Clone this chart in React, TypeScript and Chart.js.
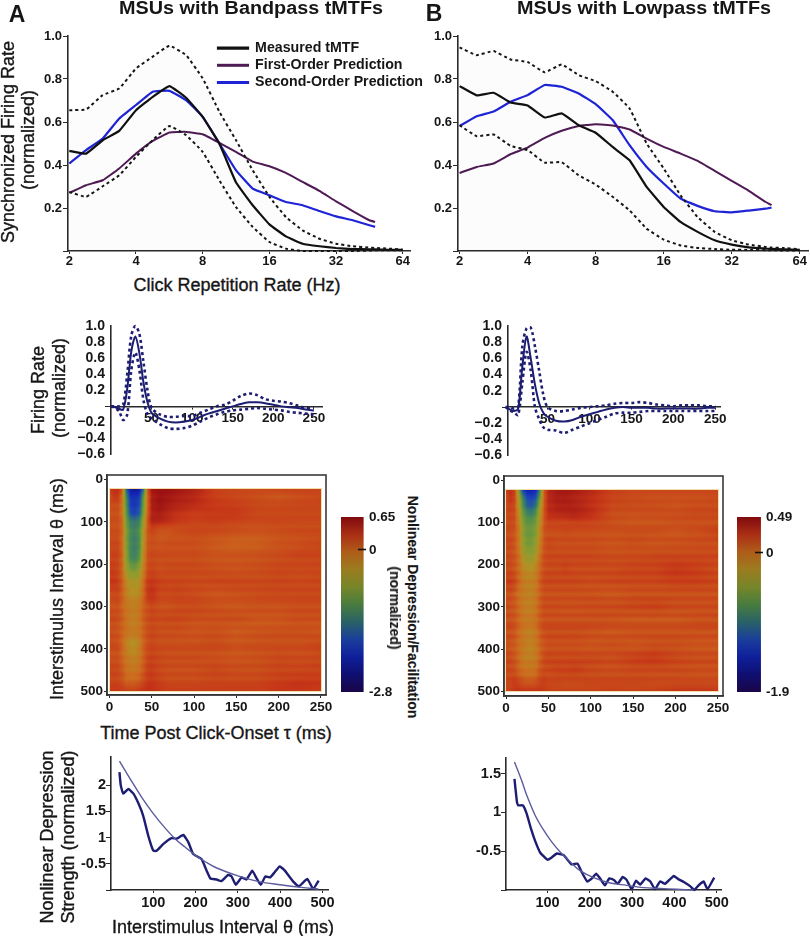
import React, { useEffect, useRef } from "react";
import { Chart, registerables } from "chart.js";

Chart.register(...registerables);

const FONT = '"Liberation Sans", Arial, sans-serif';
const INK = "#161616";
const NAVY = "#1d1d72";
const THIN = "#5b5b9e";
const PURPLE = "#4f1b55";
const BLUE = "#1f24d6";

// ---- Top row: temporal modulation transfer functions
const rates = [2, 2.38, 2.83, 3.36, 4, 4.76, 5.66, 6.73, 8, 9.51, 11.3, 13.45, 16, 19, 22.6, 26.9, 32, 38.05, 45.25, 48, 53.8, 64];
const rateTicks = [2, 4, 8, 16, 32, 64];
const syncTicks = [0, 0.2, 0.4, 0.6, 0.8, 1];
const syncTickLabels = ["", "0.2", "0.4", "0.6", "0.8", "1.0"];
const legendLabels = ["Measured tMTF", "First-Order Prediction", "Second-Order Prediction"];

const measuredA = [0.466, 0.453, 0.515, 0.559, 0.655, 0.717, 0.767, 0.713, 0.624, 0.5, 0.32, 0.213, 0.124, 0.068, 0.034, 0.022, 0.014, 0.009, 0.008, 0.008, 0.006, 0.005];
const firstA = [0.27, 0.306, 0.329, 0.384, 0.453, 0.512, 0.551, 0.554, 0.543, 0.503, 0.461, 0.416, 0.394, 0.363, 0.321, 0.28, 0.231, 0.186, 0.143, 0.135, null, null];
const secondA = [0.407, 0.469, 0.523, 0.616, 0.679, 0.741, 0.745, 0.702, 0.624, 0.5, 0.376, 0.29, 0.259, 0.228, 0.213, 0.186, 0.161, 0.143, 0.12, 0.112, null, null];
const upperA = [0.655, 0.658, 0.725, 0.756, 0.849, 0.904, 0.955, 0.911, 0.803, 0.648, 0.516, 0.376, 0.252, 0.158, 0.096, 0.057, 0.034, 0.022, 0.016, 0.014, 0.012, 0.006];
const lowerA = [0.275, 0.252, 0.301, 0.352, 0.438, 0.516, 0.581, 0.539, 0.461, 0.329, 0.205, 0.112, 0.042, 0.011, 0, 0, 0, 0, 0.002, 0.003, 0.004, 0.004];

const measuredB = [0.767, 0.724, 0.736, 0.691, 0.677, 0.621, 0.64, 0.585, 0.55, 0.484, 0.422, 0.298, 0.205, 0.135, 0.089, 0.05, 0.03, 0.017, 0.011, 0.01, 0.008, 0.005];
const firstB = [0.363, 0.391, 0.407, 0.45, 0.481, 0.526, 0.559, 0.581, 0.589, 0.584, 0.565, 0.523, 0.484, 0.453, 0.419, 0.373, 0.326, 0.28, 0.228, 0.213, null, null];
const secondB = [0.581, 0.627, 0.649, 0.694, 0.725, 0.772, 0.764, 0.733, 0.683, 0.609, 0.492, 0.391, 0.314, 0.244, 0.21, 0.185, 0.18, 0.188, 0.197, 0.202, null, null];
const upperB = [0.947, 0.911, 0.93, 0.891, 0.879, 0.831, 0.868, 0.818, 0.79, 0.741, 0.663, 0.5, 0.384, 0.259, 0.158, 0.089, 0.05, 0.03, 0.019, 0.016, 0.014, 0.008];
const lowerB = [0.585, 0.534, 0.542, 0.489, 0.469, 0.411, 0.413, 0.352, 0.309, 0.252, 0.189, 0.104, 0.053, 0.026, 0.014, 0.009, 0.006, 0.005, 0.004, 0.004, 0.002, 0.002];

// ---- Second row: first-order kernels
const lags = [0, 5, 10, 15, 20, 25, 30, 35, 40, 45, 50, 60, 70, 80, 90, 100, 110, 120, 130, 140, 150, 160, 170, 180, 190, 200, 210, 220, 230, 240, 250];
const lagTicks = [50, 100, 150, 200, 250];
const kernelTicks = [-0.6, -0.4, -0.2, 0, 0.2, 0.4, 0.6, 0.8, 1];
const kernelTickLabels = ["\u22120.6", "\u22120.4", "\u22120.2", "", "0.2", "0.4", "0.6", "0.8", "1.0"];

const kernelA = [0, -0.01, -0.03, -0.04, 0.22, 0.68, 0.87, 0.66, 0.3, 0.05, -0.08, -0.15, -0.19, -0.2, -0.19, -0.17, -0.13, -0.09, -0.06, -0.03, 0, 0.03, 0.05, 0.05, 0.04, 0.02, 0, -0.01, -0.02, -0.04, -0.05];
const kernelUpperA = [0, 0, 0, 0.02, 0.4, 0.88, 1, 0.9, 0.55, 0.2, -0.02, -0.1, -0.13, -0.13, -0.12, -0.12, -0.08, -0.04, 0, 0.02, 0.07, 0.13, 0.16, 0.14, 0.09, 0.07, 0.06, 0.04, 0.01, -0.02, -0.02];
const kernelLowerA = [0, -0.02, -0.06, -0.17, -0.1, 0.45, 0.67, 0.45, 0.08, -0.1, -0.15, -0.22, -0.27, -0.28, -0.27, -0.24, -0.19, -0.14, -0.1, -0.07, -0.05, -0.04, -0.03, -0.02, -0.03, -0.04, -0.05, -0.07, -0.08, -0.09, -0.1];

const kernelB = [0, -0.03, -0.05, -0.02, 0.5, 0.87, 0.6, 0.28, 0.05, -0.07, -0.12, -0.17, -0.18, -0.16, -0.12, -0.09, -0.06, -0.03, -0.01, 0, -0.01, -0.01, -0.01, -0.02, -0.02, -0.02, -0.02, -0.02, -0.02, -0.01, -0.01];
const kernelUpperB = [0, 0, -0.02, 0, 0.75, 0.97, 0.98, 0.75, 0.45, 0.15, 0, -0.05, -0.05, -0.03, -0.01, 0, 0.01, 0.02, 0.04, 0.05, 0.05, 0.06, 0.05, 0.03, 0.02, 0.01, 0.02, 0.02, 0.02, 0.01, 0.01];
const kernelLowerB = [0, -0.04, -0.07, -0.1, 0.3, 0.68, 0.45, 0, -0.15, -0.25, -0.28, -0.29, -0.32, -0.28, -0.24, -0.2, -0.16, -0.12, -0.08, -0.07, -0.07, -0.06, -0.05, -0.05, -0.05, -0.05, -0.05, -0.05, -0.05, -0.05, -0.05];

// ---- Third row: second-order maps
const heatLags = [0, 5, 10, 15, 20, 25, 30, 35, 40, 45, 50, 60, 70, 80, 100, 125, 150, 175, 200, 225, 250];
const heatThetas = [22, 40, 60, 80, 100, 120, 150, 180, 210, 240, 270, 300, 330, 360, 390, 420, 450, 480, 500];
const heatLagTicks = [0, 50, 100, 150, 200, 250];
const heatThetaTicks = [0, 100, 200, 300, 400, 500];

const heatA = [
  [0.2, 0.35, 0.35, 0.1, -1.6, -2.3, -2.4, -2.3, -1.5, 0.1, 0.55, 0.6, 0.6, 0.55, 0.45, 0.22, 0.18, 0.18, 0.2, 0.22, 0.2],
  [0.15, 0.3, 0.3, -0.1, -1.2, -2.0, -2.0, -1.9, -1.0, 0, 0.5, 0.6, 0.55, 0.5, 0.42, 0.25, 0.2, 0.15, 0.1, 0.15, 0.2],
  [0.15, 0.15, 0.15, -0.1, -1.1, -1.9, -1.95, -1.8, -0.9, 0, 0.5, 0.58, 0.5, 0.45, 0.38, 0.28, 0.25, 0.18, 0.18, 0.2, 0.2],
  [0.15, 0.15, 0.15, -0.1, -1.0, -1.7, -1.8, -1.6, -0.8, 0.05, 0.48, 0.52, 0.42, 0.35, 0.28, 0.3, 0.3, 0.2, 0.2, 0.2, 0.2],
  [0.15, 0.15, 0.15, 0, -0.9, -1.3, -1.35, -1.25, -0.6, 0.1, 0.45, 0.42, 0.35, 0.28, 0.22, 0.25, 0.2, 0.18, 0.2, 0.18, 0.18],
  [0.15, 0.15, 0.15, 0, -0.8, -1.2, -1.25, -1.1, -0.45, 0.1, 0.2, 0.1, 0.1, 0.15, 0.2, 0.18, 0.15, 0.12, 0.15, 0.18, 0.18],
  [0.2, 0.2, 0.2, -0.02, -0.8, -1.2, -1.3, -1.15, -0.4, 0.1, 0.15, 0.12, 0.15, 0.15, 0.15, 0.08, 0.02, 0.05, 0.12, 0.15, 0.2],
  [0.2, 0.22, 0.2, 0, -0.75, -1.25, -1.3, -1.1, -0.3, 0.12, 0.18, 0.15, 0.15, 0.15, 0.15, 0.1, 0.1, 0.12, 0.15, 0.2, 0.2],
  [0.25, 0.25, 0.2, 0, -0.6, -0.85, -0.9, -0.7, -0.2, 0.15, 0.2, 0.15, 0.18, 0.18, 0.18, 0.15, 0.12, 0.15, 0.2, 0.18, 0.2],
  [0.3, 0.3, 0.25, 0.05, -0.3, -0.5, -0.5, -0.4, -0.05, 0.25, 0.3, 0.22, 0.2, 0.2, 0.18, 0.2, 0.2, 0.18, 0.2, 0.18, 0.2],
  [0.15, 0.2, 0.2, 0.05, -0.2, -0.35, -0.35, -0.3, 0, 0.3, 0.35, 0.2, 0.2, 0.22, 0.18, 0.12, 0.15, 0.18, 0.2, 0.2, 0.2],
  [0.15, 0.15, 0.15, 0.02, -0.1, -0.18, -0.18, -0.12, 0.05, 0.15, 0.2, 0.15, 0.15, 0.18, 0.2, 0.15, 0.12, 0.15, 0.15, 0.18, 0.18],
  [0.18, 0.18, 0.15, 0.05, -0.1, -0.2, -0.22, -0.12, 0.05, 0.15, 0.2, 0.18, 0.2, 0.2, 0.15, 0.15, 0.15, 0.1, 0.1, 0.15, 0.15],
  [0.15, 0.15, 0.12, 0.02, -0.08, -0.14, -0.15, -0.1, 0.04, 0.15, 0.2, 0.15, 0.15, 0.15, 0.12, 0.15, 0.08, 0.12, 0.15, 0.15, 0.12],
  [0.18, 0.18, 0.15, 0, -0.25, -0.4, -0.38, -0.25, 0.02, 0.15, 0.2, 0.15, 0.15, 0.15, 0.15, 0.18, 0.12, 0.15, 0.15, 0.15, 0.2],
  [0.15, 0.15, 0.15, 0.02, -0.12, -0.22, -0.22, -0.14, 0.05, 0.2, 0.25, 0.2, 0.18, 0.18, 0.18, 0.15, 0.12, 0.15, 0.2, 0.18, 0.2],
  [0.2, 0.2, 0.18, 0.08, -0.08, -0.12, -0.12, -0.08, 0.08, 0.22, 0.25, 0.18, 0.15, 0.15, 0.15, 0.2, 0.15, 0.15, 0.2, 0.2, 0.22],
  [0.2, 0.22, 0.22, 0.15, 0.05, 0.05, 0.05, 0.1, 0.2, 0.3, 0.32, 0.25, 0.2, 0.2, 0.2, 0.22, 0.22, 0.22, 0.28, 0.32, 0.3],
  [0.28, 0.3, 0.3, 0.28, 0.25, 0.22, 0.25, 0.3, 0.32, 0.35, 0.35, 0.28, 0.25, 0.25, 0.25, 0.25, 0.25, 0.25, 0.3, 0.3, 0.25],
];

const heatB = [
  [0.2, 0.3, 0.2, -0.5, -1.3, -1.5, -1.5, -1.45, -0.8, 0.1, 0.33, 0.4, 0.42, 0.4, 0.33, 0.2, 0.17, 0.17, 0.17, 0.17, 0.17],
  [0.15, 0.28, 0.2, -0.3, -0.85, -1.2, -1.25, -1.15, -0.6, 0.1, 0.33, 0.4, 0.4, 0.37, 0.3, 0.2, 0.17, 0.15, 0.15, 0.15, 0.17],
  [0.15, 0.2, 0.15, -0.25, -0.75, -1.05, -1.1, -0.95, -0.4, 0.1, 0.3, 0.36, 0.37, 0.36, 0.28, 0.17, 0.15, 0.15, 0.12, 0.15, 0.15],
  [0.15, 0.18, 0.15, -0.15, -0.6, -0.8, -0.85, -0.7, -0.25, 0.12, 0.3, 0.33, 0.34, 0.36, 0.3, 0.15, 0.14, 0.15, 0.15, 0.17, 0.17],
  [0.15, 0.18, 0.15, -0.1, -0.5, -0.65, -0.65, -0.55, -0.2, 0.12, 0.2, 0.2, 0.2, 0.22, 0.2, 0.15, 0.12, 0.12, 0.15, 0.15, 0.15],
  [0.15, 0.15, 0.12, -0.05, -0.45, -0.6, -0.6, -0.5, -0.15, 0.12, 0.15, 0.15, 0.17, 0.15, 0.15, 0.14, 0.15, 0.15, 0.12, 0.15, 0.2],
  [0.17, 0.17, 0.12, -0.05, -0.42, -0.55, -0.55, -0.42, -0.1, 0.12, 0.17, 0.15, 0.15, 0.15, 0.15, 0.12, 0.15, 0.12, 0.14, 0.15, 0.15],
  [0.17, 0.15, 0.12, 0, -0.3, -0.42, -0.42, -0.3, -0.02, 0.15, 0.17, 0.17, 0.17, 0.17, 0.17, 0.15, 0.15, 0.17, 0.17, 0.17, 0.17],
  [0.17, 0.17, 0.12, 0.02, -0.15, -0.2, -0.22, -0.12, 0.05, 0.15, 0.17, 0.17, 0.2, 0.17, 0.17, 0.17, 0.2, 0.2, 0.26, 0.22, 0.17],
  [0.2, 0.22, 0.17, 0.05, -0.08, -0.12, -0.12, -0.08, 0.08, 0.17, 0.18, 0.17, 0.17, 0.17, 0.15, 0.17, 0.17, 0.17, 0.2, 0.2, 0.17],
  [0.15, 0.15, 0.1, 0, -0.08, -0.1, -0.12, -0.05, 0.08, 0.15, 0.15, 0.15, 0.15, 0.15, 0.15, 0.12, 0.15, 0.15, 0.15, 0.15, 0.15],
  [0.15, 0.12, 0.1, 0.02, -0.08, -0.12, -0.12, -0.05, 0.08, 0.15, 0.15, 0.15, 0.14, 0.14, 0.15, 0.15, 0.17, 0.19, 0.15, 0.15, 0.15],
  [0.15, 0.15, 0.12, 0.05, -0.03, -0.05, -0.05, 0, 0.1, 0.15, 0.15, 0.15, 0.15, 0.15, 0.15, 0.15, 0.12, 0.12, 0.12, 0.15, 0.15],
  [0.15, 0.15, 0.12, 0.03, -0.05, -0.1, -0.1, -0.05, 0.08, 0.15, 0.17, 0.17, 0.17, 0.17, 0.15, 0.12, 0.15, 0.15, 0.15, 0.15, 0.15],
  [0.15, 0.12, 0.1, 0.02, -0.05, -0.1, -0.12, -0.05, 0.06, 0.12, 0.15, 0.15, 0.15, 0.15, 0.12, 0.15, 0.12, 0.15, 0.15, 0.12, 0.12],
  [0.17, 0.15, 0.1, 0.02, -0.1, -0.12, -0.12, -0.08, 0.05, 0.15, 0.17, 0.17, 0.17, 0.17, 0.17, 0.15, 0.2, 0.23, 0.17, 0.15, 0.15],
  [0.17, 0.17, 0.15, 0.05, 0, -0.03, -0.03, 0, 0.12, 0.17, 0.17, 0.2, 0.2, 0.22, 0.17, 0.15, 0.17, 0.17, 0.17, 0.15, 0.15],
  [0.17, 0.17, 0.22, 0.18, 0.12, 0.1, 0.1, 0.12, 0.18, 0.2, 0.17, 0.17, 0.15, 0.15, 0.17, 0.17, 0.17, 0.15, 0.15, 0.15, 0.15],
  [0.2, 0.22, 0.28, 0.3, 0.28, 0.28, 0.28, 0.28, 0.28, 0.25, 0.22, 0.2, 0.2, 0.2, 0.2, 0.22, 0.2, 0.22, 0.27, 0.28, 0.25],
];

// Faint horizontal banding of the maps, one entry per 10 ms of interval, from 20 to 500 ms.
const bandThetas = [20, 30, 40, 50, 60, 70, 80, 90, 100, 110, 120, 130, 140, 150, 160, 170, 180, 190, 200, 210, 220, 230, 240, 250, 260, 270, 280, 290, 300, 310, 320, 330, 340, 350, 360, 370, 380, 390, 400, 410, 420, 430, 440, 450, 460, 470, 480, 490, 500];
const bandA = [0, 0.02, -0.02, 0.03, -0.01, 0.02, -0.03, 0.02, 0.01, -0.03, 0.03, 0, -0.03, 0.03, -0.02, 0.02, 0.04, -0.03, 0.04, -0.02, 0.03, -0.04, 0.05, -0.03, 0.04, -0.04, 0.03, 0.01, -0.05, 0.04, -0.03, 0.05, -0.05, 0.03, -0.03, 0.05, -0.04, 0.02, 0.04, -0.05, 0.03, -0.04, 0.05, -0.03, 0.04, -0.05, 0.02, 0.01, 0];
const bandB = [0, 0.01, -0.02, 0.02, -0.01, 0.03, -0.02, 0.02, -0.03, 0.02, 0.01, -0.03, 0.03, -0.02, 0.02, -0.03, 0.04, -0.02, 0.03, -0.04, 0.04, -0.03, 0.05, -0.04, 0.03, -0.05, 0.04, -0.03, 0.05, -0.04, 0.04, -0.05, 0.03, 0.03, -0.05, 0.04, -0.03, 0.02, -0.04, 0.04, -0.03, 0.05, -0.04, 0.03, -0.04, 0.03, 0.01, -0.01, 0];

const colorStops = [
  [125, 10, 15], [165, 45, 20], [170, 90, 25], [150, 120, 30], [115, 130, 40], [70, 120, 60],
  [40, 95, 100], [25, 60, 150], [15, 30, 150], [15, 15, 110], [25, 5, 70],
];
const rangeA = [-2.8, 0.65];
const rangeB = [-1.9, 0.49];
const barTickLabelsA = ["-2.8", "0", "0.65"];
const barTickLabelsB = ["-1.9", "0", "0.49"];

// ---- Bottom row: nonlinear depression strength against interval
const isiTicks = [100, 200, 300, 400, 500];
const strengthIsiA = [20, 23, 29, 41, 53, 65, 76, 88, 100, 108, 124, 143, 155, 171, 183, 194, 214, 226, 235, 250, 261, 277, 285, 295, 309, 320, 334, 343, 354, 365, 376, 387, 399, 411, 431, 444, 464, 478, 491];
const strengthA = [2.25, 2.0, 1.84, 1.93, 1.84, 1.65, 1.42, 1.04, 0.75, 0.75, 0.88, 0.99, 0.98, 1.05, 0.91, 0.69, 0.59, 0.37, 0.22, 0.2, 0.17, 0.29, 0.26, 0.1, 0.24, 0.2, 0.37, 0.24, 0.1, 0.26, 0.24, 0.34, 0.45, 0.37, 0.16, 0.07, 0.21, 0.02, 0.18];
const fitIsiA = [20, 50, 75, 100, 125, 150, 175, 200, 225, 250, 300, 350, 400, 450, 490];
const fitA = [2.46, 2.06, 1.74, 1.46, 1.21, 0.99, 0.82, 0.66, 0.53, 0.42, 0.27, 0.16, 0.1, 0.05, 0.02];
const strengthTicksA = [0.5, 1, 1.5, 2];
const strengthTickLabelsA = ["-0.5", "1", "1.5", "2"];

const strengthIsiB = [22, 28, 31, 42, 51, 61, 71, 83, 100, 110, 122, 138, 157, 171, 181, 194, 205, 215, 224, 236, 246, 257, 266, 278, 287, 299, 309, 319, 332, 343, 354, 366, 378, 398, 409, 423, 437, 447, 457, 469, 478, 494];
const strengthB = [1.43, 1.13, 1.09, 1.09, 0.98, 0.79, 0.63, 0.48, 0.39, 0.42, 0.47, 0.45, 0.33, 0.34, 0.23, 0.11, 0.15, 0.21, 0.15, 0.06, 0.15, 0.13, 0.08, 0.17, 0.13, 0.01, 0.12, 0.07, 0.15, 0.11, 0.01, 0.11, 0.08, 0.18, 0.14, 0.1, 0.05, 0, 0.06, 0.11, 0.01, 0.16];
const fitIsiB = [22, 39, 51, 71, 91, 110, 130, 154, 177, 209, 248, 287, 327, 366, 405, 445];
const fitB = [1.65, 1.41, 1.22, 0.96, 0.77, 0.62, 0.49, 0.36, 0.25, 0.16, 0.09, 0.06, 0.03, 0.02, 0.01, 0];
const strengthTicksB = [0.5, 1, 1.5];
const strengthTickLabelsB = ["-0.5", "1", "1.5"];

// ---- Helpers
type Area = { l: number; t: number; r: number; b: number };

const zip = (xs: number[], ys: (number | null)[]) => xs.map((x, i) => ({ x, y: ys[i] }));

function colorAt(f: number, gain: number) {
  const p = Math.max(0, Math.min(1, f)) * (colorStops.length - 1);
  const i = Math.min(colorStops.length - 2, Math.floor(p));
  const t = p - i;
  return colorStops[i].map((c, k) => Math.min(255, (c + (colorStops[i + 1][k] - c) * t) * gain));
}

function bracket(nodes: number[], v: number) {
  let i = 0;
  while (i < nodes.length - 2 && v > nodes[i + 1]) i++;
  const t = Math.max(0, Math.min(1, (v - nodes[i]) / (nodes[i + 1] - nodes[i])));
  return [i, t];
}

const heatPlugin = {
  id: "heat",
  beforeDraw(chart: any, _a: any, o: any) {
    if (!o.grid) return;
    const { x: xs, y: ys } = chart.scales;
    const { ctx } = chart;
    const x0 = Math.round(xs.getPixelForValue(o.lags[0]));
    const x1 = Math.round(xs.getPixelForValue(o.lags[o.lags.length - 1]));
    const y0 = Math.round(ys.getPixelForValue(o.thetas[0]));
    const y1 = Math.round(ys.getPixelForValue(o.thetas[o.thetas.length - 1]));
    const img = ctx.createImageData(x1 - x0, y1 - y0);
    const span = o.range[1] - o.range[0];
    for (let py = y0; py < y1; py++) {
      const th = ys.getValueForPixel(py + 0.5);
      const [r, tr] = bracket(o.thetas, th);
      const [bi, bt] = bracket(bandThetas, th);
      const band = o.band[bi] * (1 - bt) + o.band[bi + 1] * bt;
      for (let px = x0; px < x1; px++) {
        const [c, tc] = bracket(o.lags, xs.getValueForPixel(px + 0.5));
        const a = o.grid[r][c] * (1 - tc) + o.grid[r][c + 1] * tc;
        const b = o.grid[r + 1][c] * (1 - tc) + o.grid[r + 1][c + 1] * tc;
        const v = a * (1 - tr) + b * tr;
        const rgb = colorAt((o.range[1] - v - band) / span, 1.2);
        const k = ((py - y0) * (x1 - x0) + (px - x0)) * 4;
        img.data[k] = rgb[0];
        img.data[k + 1] = rgb[1];
        img.data[k + 2] = rgb[2];
        img.data[k + 3] = 255;
      }
    }
    ctx.putImageData(img, x0, y0);
    ctx.save();
    ctx.strokeStyle = "#f4dca6";
    ctx.lineWidth = 1;
    ctx.strokeRect(x0 - 0.5, y0 - 0.5, x1 - x0 + 1, y1 - y0 + 1);
    ctx.restore();
  },
  afterDraw(chart: any, _a: any, o: any) {
    if (!o.grid) return;
    const { ctx, chartArea: c } = chart;
    ctx.save();
    ctx.strokeStyle = "#3a3a3a";
    ctx.lineWidth = 1.6;
    ctx.strokeRect(c.left, c.top, c.right - c.left, c.bottom - c.top);
    ctx.restore();
  },
};

const barPlugin = {
  id: "bar",
  beforeDraw(chart: any, _a: any, o: any) {
    if (!o.range) return;
    const { x: xs, y: ys } = chart.scales;
    const { ctx } = chart;
    const l = xs.getPixelForValue(0);
    const r = xs.getPixelForValue(o.reach);
    for (let py = Math.floor(ys.top); py < ys.bottom; py++) {
      const v = ys.getValueForPixel(py + 0.5);
      const rgb = colorAt((o.range[1] - v) / (o.range[1] - o.range[0]), 1.03);
      ctx.fillStyle = `rgb(${rgb[0]},${rgb[1]},${rgb[2]})`;
      ctx.fillRect(l, py, r - l, 1);
    }
  },
};

const legendPlugin = {
  id: "placeLegend",
  afterLayout(chart: any, _a: any, o: any) {
    if (o.left == null || !chart.legend) return;
    const w = chart.legend.width;
    const h = chart.legend.height;
    chart.legend.left = o.left;
    chart.legend.right = o.left + w;
    chart.legend.top = o.top;
    chart.legend.bottom = o.top + h;
  },
};

function mount(canvas: HTMLCanvasElement, cfg: any) {
  return new Chart(canvas, cfg);
}

type PanelProps = { area: Area; gl: number; gb: number; gr?: number; gt?: number; build: (g: any) => any };

function Panel({ area, gl, gb, gr = 22, gt = 12, build }: PanelProps) {
  const ref = useRef<HTMLCanvasElement>(null);
  useEffect(() => {
    const chart = mount(ref.current!, build({ gl, gb, gr, gt }));
    return () => chart.destroy();
  }, []);
  const w = Math.round(gl + (area.r - area.l) + gr);
  const h = Math.round(gt + (area.b - area.t) + gb);
  return (
    <canvas
      ref={ref}
      width={w}
      height={h}
      style={{ position: "absolute", left: area.l - gl, top: area.t - gt, width: w, height: h }}
    />
  );
}

const base = (g: any, extra: any = {}) => ({
  responsive: false,
  maintainAspectRatio: false,
  animation: false,
  events: [],
  layout: { padding: { top: g.gt, right: g.gr, left: 0, bottom: 0, ...(extra.padding || {}) } },
  elements: { point: { radius: 0 } },
  plugins: { legend: { display: false }, title: { display: false }, tooltip: { enabled: false }, ...(extra.plugins || {}) },
  scales: extra.scales,
});

const pick = (values: number[], labels: string[]) => (v: any) => {
  const i = values.indexOf(v);
  return i >= 0 ? labels[i] : "";
};

function axisX(g: any, o: any) {
  return {
    type: o.type || "linear",
    min: o.min,
    max: o.max,
    bounds: "data",
    position: o.position || "bottom",
    border: { color: "#2a2a2a", width: o.bw || 1.6 },
    grid: { drawOnChartArea: false, drawTicks: true, tickLength: o.tick ?? 3, tickColor: "#2a2a2a" },
    ticks: {
      autoSkip: false,
      maxRotation: 0,
      minRotation: 0,
      padding: o.pad ?? 1,
      color: INK,
      font: { family: FONT, weight: "bold", size: o.size },
      callback: (v: any) => String(v),
    },
    afterBuildTicks: (s: any) => {
      s.ticks = o.ticks.map((value: number) => ({ value }));
    },
    afterFit: (s: any) => {
      if (!o.position) s.height = g.gb;
    },
  };
}

function axisY(g: any, o: any) {
  return {
    type: "linear",
    min: o.min,
    max: o.max,
    reverse: !!o.reverse,
    bounds: "data",
    position: "left",
    border: { color: "#2a2a2a", width: 1.6 },
    grid: {
      drawOnChartArea: false,
      tickLength: o.tick ?? 5,
      tickColor: (c: any) => (o.onlyZero && c.tick.value !== 0 ? "rgba(0,0,0,0)" : "#2a2a2a"),
    },
    ticks: {
      autoSkip: false,
      padding: o.pad ?? 1,
      color: INK,
      font: { family: FONT, weight: "bold", size: o.size },
      callback: o.labels ? pick(o.ticks, o.labels) : (v: any) => String(v),
    },
    afterBuildTicks: (s: any) => {
      s.ticks = o.ticks.map((value: number) => ({ value }));
    },
    afterFit: (s: any) => {
      s.width = g.gl;
    },
  };
}

const curve = (label: string, xs: number[], ys: (number | null)[], color: string, width: number, extra: any = {}) => ({
  type: "line",
  label,
  data: zip(xs, ys),
  borderColor: color,
  backgroundColor: color,
  borderWidth: width,
  pointRadius: 0,
  tension: 0.1,
  clip: false,
  ...extra,
});

const dotted = { borderDash: [3, 3] };

function mtfConfig(g: any, area: Area, xMin: number, xMax: number, m: any, f: any, s: any, u: any, lo: any, legendAt?: number[]) {
  const showLegend = !!legendAt;
  return {
    type: "line",
    data: {
      datasets: [
        curve("Upper limit", rates, u, INK, 2, { ...dotted, fill: "origin", backgroundColor: "rgba(0,0,0,0.01)" }),
        curve("Lower limit", rates, lo, INK, 2, dotted),
        curve(legendLabels[0], rates, m, "#111111", 2.2),
        curve(legendLabels[1], rates, f, PURPLE, 2),
        curve(legendLabels[2], rates, s, BLUE, 2.2),
      ],
    },
    options: base(g, {
      plugins: {
        legend: {
          display: showLegend,
          position: "chartArea",
          align: "start",
          labels: {
            boxWidth: 30,
            boxHeight: 1,
            padding: 3,
            color: INK,
            font: { family: FONT, weight: "bold", size: 14.2 },
            filter: (it: any) => legendLabels.includes(it.text),
          },
        },
        placeLegend: legendAt ? { left: legendAt[0], top: legendAt[1] } : {},
      },
      scales: {
        x: axisX(g, { type: "logarithmic", min: xMin, max: xMax, ticks: rateTicks, size: 13, tick: 3, pad: 0 }),
        y: axisY(g, { min: 0, max: 1, ticks: syncTicks, labels: syncTickLabels, size: 13 }),
      },
    }),
    plugins: [legendPlugin],
  };
}

function kernelConfig(g: any, xMin: number, xMax: number, main: number[], up: number[], low: number[]) {
  const opts = base(g, {
    padding: { bottom: g.gb },
    scales: {
      x: axisX(g, { min: xMin, max: xMax, ticks: lagTicks, size: 13.5, position: { y: 0 }, tick: 2, pad: 2 }),
      y: axisY(g, { min: -0.6, max: 1, ticks: kernelTicks, labels: kernelTickLabels, size: 14, tick: 6, onlyZero: true, pad: 0 }),
    },
  });
  return {
    type: "line",
    data: {
      datasets: [
        curve("Upper limit", lags, up, NAVY, 2.6, { ...dotted, tension: 0.3 }),
        curve("Lower limit", lags, low, NAVY, 2.6, { ...dotted, tension: 0.3 }),
        curve("Kernel", lags, main, NAVY, 2, { tension: 0.3 }),
      ],
    },
    options: opts,
  };
}

function heatConfig(g: any, d: any) {
  return {
    type: "line",
    data: { datasets: [] },
    options: base(g, {
      plugins: { heat: { grid: d.grid, band: d.band, lags: heatLags, thetas: heatThetas, range: d.range } },
      scales: {
        x: axisX(g, { min: d.x[0], max: d.x[1], ticks: heatLagTicks, size: 13.5, tick: 3, pad: 1 }),
        y: axisY(g, { min: d.y[0], max: d.y[1], reverse: true, ticks: heatThetaTicks, size: 13.5, tick: 3, pad: 1 }),
      },
    }),
    plugins: [heatPlugin],
  };
}

function barConfig(g: any, range: number[], labels: string[], size: number) {
  const values = [range[0], 0, range[1]];
  return {
    type: "line",
    data: { datasets: [] },
    options: base(g, {
      padding: { left: g.gl, right: 0, bottom: g.gb },
      plugins: { bar: { range, reach: 1.33 } },
      scales: {
        x: { type: "linear", min: 0, max: 1, display: false },
        y: {
          type: "linear",
          min: range[0],
          max: range[1],
          bounds: "data",
          position: "right",
          border: { display: false },
          grid: {
            drawOnChartArea: false,
            tickLength: 8,
            tickColor: (c: any) => (c.tick.value === 0 ? "#111111" : "rgba(0,0,0,0)"),
            tickWidth: 1.6,
          },
          ticks: {
            autoSkip: false,
            padding: 3,
            color: INK,
            font: { family: FONT, weight: "bold", size },
            callback: pick(values, labels),
          },
          afterBuildTicks: (s: any) => {
            s.ticks = values.map((value: number) => ({ value }));
          },
          afterFit: (s: any) => {
            s.width = g.gr;
          },
        },
      },
    }),
    plugins: [barPlugin],
  };
}

function strengthConfig(g: any, d: any) {
  return {
    type: "line",
    data: {
      datasets: [
        curve("Exponential fit", d.fitX, d.fit, THIN, 1.4, { tension: 0.35 }),
        curve("Nonlinear depression strength", d.isi, d.val, NAVY, 2.4, { tension: 0.12 }),
      ],
    },
    options: base(g, {
      scales: {
        x: axisX(g, { min: d.x[0], max: d.x[1], ticks: isiTicks, size: 14.5, tick: 3, pad: 1 }),
        y: axisY(g, { min: 0, max: d.yMax, ticks: [0, ...d.ticks], labels: ["", ...d.labels], size: 14.5, tick: 5, onlyZero: false, pad: 0 }),
      },
    }),
  };
}

function Txt({ x, y, text, size = 18, weight = 400, rot = 0, sx = 1, stroke = 0.35 }: any) {
  return (
    <div
      style={{
        position: "absolute",
        left: x,
        top: y,
        transform: `translate(-50%,-50%) rotate(${rot}deg) scaleX(${sx})`,
        fontFamily: FONT,
        fontSize: size,
        fontWeight: weight,
        color: INK,
        whiteSpace: "nowrap",
        lineHeight: 1,
        WebkitTextStroke: stroke ? `${stroke}px ${INK}` : undefined,
      }}
    >
      {text}
    </div>
  );
}

// ---- Plot rectangles
const topA: Area = { l: 68, t: 36, r: 410, b: 250.7 };
const topB: Area = { l: 457.7, t: 36, r: 808, b: 250.5 };
const midA: Area = { l: 110.7, t: 325.7, r: 322, b: 455 };
const midB: Area = { l: 507.7, t: 326, r: 720, b: 455.5 };
const mapA: Area = { l: 106.7, t: 475, r: 326, b: 695 };
const mapB: Area = { l: 504, t: 476, r: 722.7, b: 695.7 };
const barA: Area = { l: 340.7, t: 517.3, r: 358, b: 692.7 };
const barB: Area = { l: 737.3, t: 517.3, r: 755, b: 692.7 };
const lowA: Area = { l: 111, t: 756.7, r: 328, b: 889.3 };
const lowB: Area = { l: 505.7, t: 757.7, r: 720.7, b: 889.3 };

export default function App() {
  return (
    <div style={{ position: "absolute", left: 0, top: 0, width: 810, height: 936, background: "#fff", overflow: "hidden" }}>
      <Panel area={topA} gl={60} gb={24} build={(g) => mtfConfig(g, topA, 1.973, 69, measuredA, firstA, secondA, upperA, lowerA, [207, 14])} />
      <Panel area={topB} gl={40} gb={24} gr={12} build={(g) => mtfConfig(g, topB, 1.968, 69.6, measuredB, firstB, secondB, upperB, lowerB)} />
      <Panel area={midA} gl={50} gb={8} build={(g) => kernelConfig(g, 0, 260, kernelA, kernelUpperA, kernelLowerA)} />
      <Panel area={midB} gl={50} gb={8} build={(g) => kernelConfig(g, 2.9, 255.6, kernelB, kernelUpperB, kernelLowerB)} />
      <Panel area={mapA} gl={40} gb={26} gr={10} build={(g) => heatConfig(g, { grid: heatA, band: bandA, range: rangeA, x: [-3, 256], y: [-11, 509] })} />
      <Panel area={mapB} gl={40} gb={26} gr={10} build={(g) => heatConfig(g, { grid: heatB, band: bandB, range: rangeB, x: [-2.4, 256], y: [-10, 511] })} />
      <Panel area={barA} gl={2} gb={12} gr={44} build={(g) => barConfig(g, rangeA, barTickLabelsA, 13.5)} />
      <Panel area={barB} gl={2} gb={12} gr={44} build={(g) => barConfig(g, rangeB, barTickLabelsB, 13.5)} />
      <Panel area={lowA} gl={48} gb={28} build={(g) => strengthConfig(g, { fitX: fitIsiA, fit: fitA, isi: strengthIsiA, val: strengthA, x: [0, 513], yMax: 2.54, ticks: strengthTicksA, labels: strengthTickLabelsA })} />
      <Panel area={lowB} gl={48} gb={28} build={(g) => strengthConfig(g, { fitX: fitIsiB, fit: fitB, isi: strengthIsiB, val: strengthB, x: [2, 510], yMax: 1.7, ticks: strengthTicksB, labels: strengthTickLabelsB })} />

      <Txt x={17} y={14} text="A" size={23} weight={700} stroke={0} />
      <Txt x={434} y={13} text="B" size={23} weight={700} stroke={0} />
      <Txt x={250.7} y={8} text="MSUs with Bandpass tMTFs" size={18} weight={700} sx={1.1} stroke={0} />
      <Txt x={643.5} y={8} text="MSUs with Lowpass tMTFs" size={18} weight={700} sx={1.1} stroke={0} />

      <Txt x={237} y={285} text="Click Repetition Rate (Hz)" />
      <Txt x={8} y={141.7} text="Synchronized Firing Rate" rot={-90} />
      <Txt x={28} y={140} text="(normalized)" rot={-90} />

      <Txt x={38} y={389.7} text="Firing Rate" rot={-90} />
      <Txt x={59.3} y={388} text="(normalized)" rot={-90} />

      <Txt x={57} y={589} text={"Interstimulus Interval \u03b8 (ms)"} rot={-90} />
      <Txt x={216} y={732.7} text={"Time Post Click-Onset \u03c4 (ms)"} />
      <Txt x={412.7} y={607} text="Nonlinear Depression/Facilitation" size={14} weight={700} rot={90} stroke={0.15} />
      <Txt x={395} y={608} text="(normalized)" size={14} weight={700} rot={90} stroke={0.15} />

      <Txt x={47} y={836.7} text="Nonlinear Depression" rot={-90} />
      <Txt x={68} y={836.7} text="Strength (normalized)" rot={-90} />
      <Txt x={223} y={926.7} text={"Interstimulus Interval \u03b8 (ms)"} />
    </div>
  );
}
